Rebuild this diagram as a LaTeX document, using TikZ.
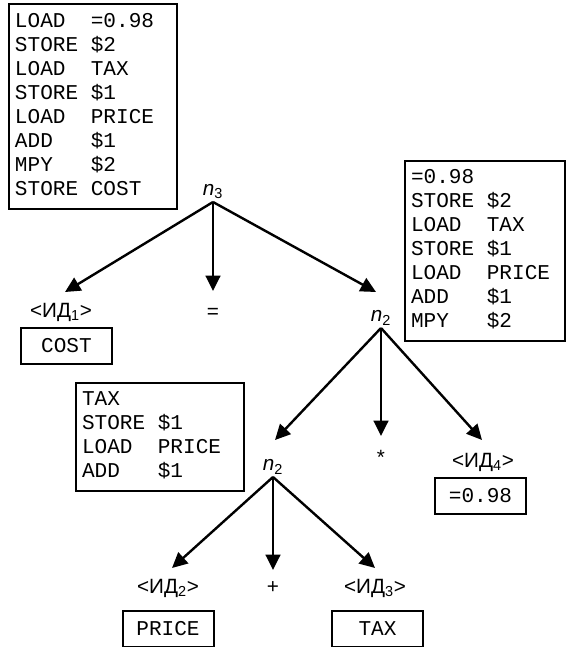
\documentclass[tikz,border=0pt]{standalone}
\usepackage{fontspec}
\setmainfont{Liberation Sans}
\setmonofont{Liberation Mono}
\usetikzlibrary{arrows.meta}

\newenvironment{listing}{\begin{tabular}{@{}l@{\hspace{0.6em}}l@{}}}{\end{tabular}}

\tikzset{
  prog/.style={draw, line width=1.5pt, anchor=north west, align=left, inner xsep=4.5pt,
    font=\ttfamily\fontsize{15.8}{18}\selectfont},
  val/.style={draw, line width=1.5pt, minimum width=68.25pt, minimum height=27pt, inner sep=0pt,
    font=\ttfamily\fontsize{15.8}{18}\selectfont},
  lbl/.style={font=\fontsize{15.5}{17}\selectfont, inner sep=0pt},
  top/.style={lbl, anchor=south, inner sep=2pt},
  edge/.style={line width=1.8pt, -{Triangle[length=11.5pt,width=11pt]}}
}

\begin{document}
\begin{tikzpicture}[x=0.75pt,y=-0.75pt]
  \useasboundingbox (0,0) rectangle (565,647);
  \node [prog, minimum height=153.75pt, text width=117pt] (p3) at (8,3)
    {\begin{listing}
      LOAD & =0.98\\ STORE & \$2\\ LOAD & TAX\\ STORE & \$1\\
      LOAD & PRICE\\ ADD & \$1\\ MPY & \$2\\ STORE & COST
    \end{listing}};
  \node [prog, minimum height=135pt, text width=111.25pt] (p2) at (404,160)
    {\begin{listing}
      =0.98\\ STORE & \$2\\ LOAD & TAX\\ STORE & \$1\\
      LOAD & PRICE\\ ADD & \$1\\ MPY & \$2
    \end{listing}};
  \node [prog, minimum height=81pt, text width=117pt] (p1) at (75,382)
    {\begin{listing}
      TAX\\ STORE & \$1\\ LOAD & PRICE\\ ADD & \$1
    \end{listing}};

  \node [top] (n3) at (213,202) {{\itshape n}\textsubscript{3}};
  \node [lbl] (id1) at (61,312) {<ИД\textsubscript{1}>};
  \node [lbl] (eq) at (213,313) {=};
  \node [top] (n2) at (381,328) {{\itshape n}\textsubscript{2}};
  \node [val] (cost) at (66.5,346) {COST};
  \coordinate (t31) at (65,292);
  \coordinate (t32) at (213,291);
  \coordinate (t33) at (376,292);
  \draw [edge] (n3.south) -- (t31);
  \draw [edge] (n3.south) -- (t32);
  \draw [edge] (n3.south) -- (t33);

  \node [top] (n1) at (273,477) {{\itshape n}\textsubscript{2}};
  \node [lbl] (mul) at (381,457) {*};
  \node [lbl] (id4) at (483,462) {<ИД\textsubscript{4}>};
  \node [val] (c) at (480.5,496) {=0.98};
  \coordinate (t21) at (275,440);
  \coordinate (t22) at (381,436);
  \coordinate (t23) at (482,440);
  \draw [edge] (n2.south) -- (t21);
  \draw [edge] (n2.south) -- (t22);
  \draw [edge] (n2.south) -- (t23);

  \node [lbl] (id2) at (168,588) {<ИД\textsubscript{2}>};
  \node [lbl] (plus) at (273,588) {+};
  \node [lbl] (id3) at (375,588) {<ИД\textsubscript{3}>};
  \node [val] (price) at (168,628.5) {PRICE};
  \node [val] (tax) at (377.5,628.5) {TAX};
  \coordinate (t11) at (172,568);
  \coordinate (t12) at (273,570);
  \coordinate (t13) at (375,568);
  \draw [edge] (n1.south) -- (t11);
  \draw [edge] (n1.south) -- (t12);
  \draw [edge] (n1.south) -- (t13);
\end{tikzpicture}
\end{document}
